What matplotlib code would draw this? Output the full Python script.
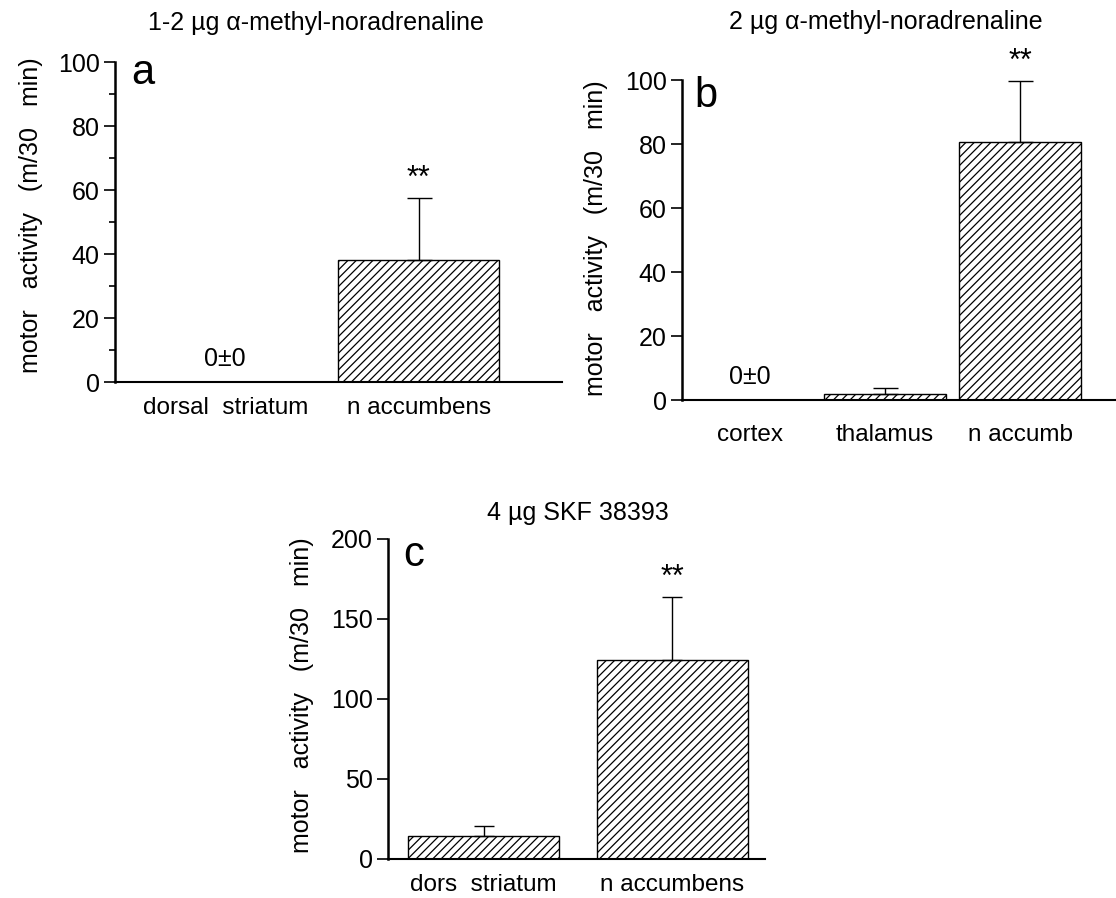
import numpy as np
import matplotlib
matplotlib.use("Agg")
import matplotlib.pyplot as plt
from matplotlib.ticker import MultipleLocator

plt.rcParams['font.family'] = ['Liberation Sans', 'DejaVu Sans']
plt.rcParams['hatch.linewidth'] = 0.9

# ---- data ----
titles = ["1-2 µg α-methyl-noradrenaline", "2 µg α-methyl-noradrenaline", "4 µg SKF 38393"]
panel_letters = ["a", "b", "c"]

cats_a = ["dorsal  striatum", "n accumbens"]
vals_a = [0, 38]
err_a = [0, 19.5]
sig_a = ["0±0", "**"]

cats_b = ["cortex", "thalamus", "n accumb"]
vals_b = [0, 1.8, 80.5]
err_b = [0, 1.9, 19.2]
sig_b = ["0±0", "", "**"]

cats_c = ["dors  striatum", "n accumbens"]
vals_c = [14.5, 124.5]
err_c = [6, 39]
sig_c = ["", "**"]

yticks_a = [0, 20, 40, 60, 80, 100]
yticks_b = [0, 20, 40, 60, 80, 100]
yticks_c = [0, 50, 100, 150, 200]

W, H = 1116, 898
fig = plt.figure(figsize=(W / 100, H / 100), dpi=100)


def px_axes(l, r, t, b):
    return fig.add_axes([l / W, 1 - b / H, (r - l) / W, (b - t) / H])


def panel(ax, cats, vals, errs, sigs, yticks, xlim, width, letter, lpos, minor=None,
          star_off=3, cap=9, xpad=10):
    x = np.arange(len(cats))
    ax.bar(x, vals, width=width, color='white', edgecolor='black', hatch='////', linewidth=1.0, zorder=2)
    for xi, v, e, s in zip(x, vals, errs, sigs):
        if e > 0:
            ax.errorbar([xi], [v], yerr=[[0], [e]], fmt='none', ecolor='black',
                        elinewidth=1.0, capsize=cap, capthick=1.0, zorder=3)
        if s == "**":
            ax.annotate(s, (xi, v + e), xytext=(0, star_off), textcoords='offset points',
                        ha='center', va='bottom', fontsize=22)
        elif s:
            ax.annotate(s, (xi, v), xytext=(0, 8), textcoords='offset points',
                        ha='center', va='bottom', fontsize=18)
    ax.set_xlim(*xlim)
    ax.set_ylim(yticks[0], yticks[-1])
    ax.set_yticks(yticks)
    if minor:
        ax.yaxis.set_minor_locator(MultipleLocator(minor))
        ax.tick_params(axis='y', which='minor', length=4, width=1.2)
    ax.set_xticks(x)
    ax.set_xticklabels(cats, fontsize=17.5)
    ax.tick_params(axis='x', length=0, pad=xpad)
    ax.tick_params(axis='y', which='major', length=8, width=1.2, labelsize=18, pad=3)
    for sp in ['top', 'right']:
        ax.spines[sp].set_visible(False)
    ax.spines['left'].set_linewidth(1.8)
    ax.spines['bottom'].set_linewidth(1.5)
    ax.text(lpos[0], lpos[1], letter, transform=ax.transAxes, ha='center', va='center', fontsize=30)


ax_a = px_axes(115, 562, 62, 382)
panel(ax_a, cats_a, vals_a, err_a, sig_a, yticks_a, (-0.57, 1.74), 0.83, panel_letters[0],
      (0.063, 0.965), minor=10, xpad=11)

ax_b = px_axes(682, 1116, 80, 400)
panel(ax_b, cats_b, vals_b, err_b, sig_b, yticks_b, (-0.5, 2.71), 0.9, panel_letters[1],
      (0.055, 0.95), cap=9, xpad=17)

ax_c = px_axes(388, 765, 539, 859)
panel(ax_c, cats_c, vals_c, err_c, sig_c, yticks_c, (-0.507, 1.49), 0.8, panel_letters[2],
      (0.069, 0.95), cap=7, xpad=11)

# titles
fig.text(316 / W, 1 - 23 / H, titles[0], ha='center', va='center', fontsize=18)
fig.text(886 / W, 1 - 22 / H, titles[1], ha='center', va='center', fontsize=18)
fig.text(578 / W, 1 - 513 / H, titles[2], ha='center', va='center', fontsize=18)

# y labels
ylab = "motor   activity   (m/30   min)"
fig.text(31 / W, 1 - 215 / H, ylab, rotation=90, ha='center', va='center', fontsize=18)
fig.text(596 / W, 1 - 238 / H, ylab, rotation=90, ha='center', va='center', fontsize=18)
fig.text(302 / W, 1 - 695 / H, ylab, rotation=90, ha='center', va='center', fontsize=18)

fig.savefig("out.png", dpi=100)
